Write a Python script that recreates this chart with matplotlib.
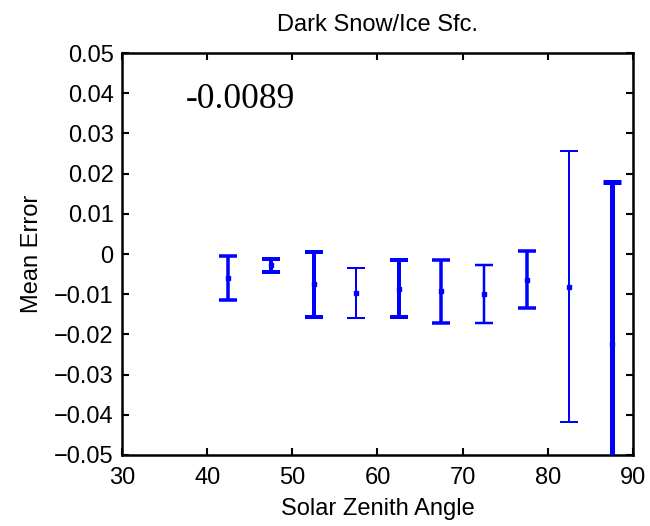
import numpy as np
import matplotlib.pyplot as plt

# solar zenith angle bins and mean error with its spread
sza = [42.5, 47.5, 52.5, 57.5, 62.5, 67.5, 72.5, 77.5, 82.5, 87.5]
mean_err = [-0.0060, -0.0028, -0.0075, -0.0097, -0.0086, -0.0093, -0.0100, -0.0064, -0.0081, -0.0224]
err_half = [0.0055, 0.0016, 0.0081, 0.0061, 0.0071, 0.0078, 0.0072, 0.0071, 0.0337, 0.0402]
bar_px = [3.5, 4.0, 4.0, 2.0, 4.0, 3.5, 2.5, 3.5, 2.0, 5.0]  # line thickness per bin
overall = "-0.0089"

xticks = [30, 40, 50, 60, 70, 80, 90]
yticks = [0.05, 0.04, 0.03, 0.02, 0.01, 0, -0.01, -0.02, -0.03, -0.04, -0.05]
ytick_labels = ["0.05", "0.04", "0.03", "0.02", "0.01", "0",
                "\u22120.01", "\u22120.02", "\u22120.03", "\u22120.04", "\u22120.05"]

plt.rcParams['font.family'] = ['Liberation Sans', 'DejaVu Sans']
fs = 17

fig = plt.figure(figsize=(6.5, 5.26), dpi=100)
ax = fig.add_axes([0.1877, 0.135, 0.7861, 0.7642])

for x, y, e, w in zip(sza, mean_err, err_half, bar_px):
    lw = w * 0.72
    ax.errorbar(x, y, yerr=e, color='#0000ff', lw=lw, capsize=6.3,
                capthick=lw, marker='s', markersize=3.5, zorder=3)

ax.set_xlim(30, 90)
ax.set_ylim(-0.05, 0.05)
ax.set_xticks(xticks)
ax.set_yticks(yticks)
ax.set_yticklabels(ytick_labels)
ax.tick_params(direction='in', top=True, right=True, length=5, width=1.5,
               labelsize=fs)
ax.tick_params(axis='y', pad=6)
ax.tick_params(axis='x', pad=9)
for s in ax.spines.values():
    s.set_linewidth(1.8)

ax.set_title("Dark Snow/Ice Sfc.", fontsize=fs, pad=16)
ax.set_xlabel("Solar Zenith Angle", fontsize=fs, labelpad=6)
ax.set_ylabel("Mean Error", fontsize=fs, labelpad=8)

ax.text(37.5, 0.0385, overall, family='Liberation Serif', fontsize=25.5,
        va='center', ha='left')

fig.savefig("out.png", dpi=100)
